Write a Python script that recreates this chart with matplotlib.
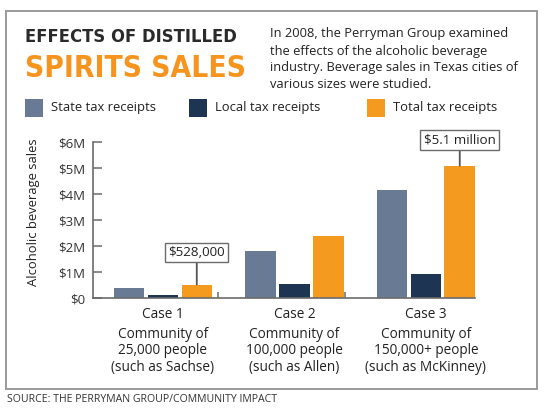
import matplotlib
matplotlib.use("Agg")
import matplotlib.pyplot as plt
from matplotlib.patches import Rectangle
import numpy as np

# ---- data ----
cases = ["Case 1", "Case 2", "Case 3"]
case_desc = ["Community of\n25,000 people\n(such as Sachse)",
             "Community of\n100,000 people\n(such as Allen)",
             "Community of\n150,000+ people\n(such as McKinney)"]
state_tax = [0.40, 1.82, 4.17]   # $ millions
local_tax = [0.12, 0.56, 0.95]
total_tax = [0.528, 2.40, 5.10]
series_names = ["State tax receipts", "Local tax receipts", "Total tax receipts"]
yticks = [0, 1, 2, 3, 4, 5, 6]
ytick_labels = ["$0", "$1M", "$2M", "$3M", "$4M", "$5M", "$6M"]
callouts = {0: "$528,000", 2: "$5.1 million"}

colors = ["#687a94", "#1d3553", "#f39a1f"]
W, H = 546, 416
plt.rcParams['font.family'] = ['Open Sans', 'DejaVu Sans']

fig = plt.figure(figsize=(W / 100, H / 100), dpi=100)
renderer = fig.canvas.get_renderer()

def fx(px):
    return px / W

def fy(py):
    return 1 - py / H

def fit_width(t, target_px):
    w = t.get_window_extent(renderer=renderer).width
    t.set_fontsize(t.get_fontsize() * target_px / w)

# frame
fig.patches.append(Rectangle((fx(6), fy(389)), fx(537) - fx(6), fy(11) - fy(389),
                             transform=fig.transFigure, fill=False,
                             edgecolor="#9a9a9a", lw=1.4))

# titles
t1 = fig.text(fx(25), fy(37), "EFFECTS OF DISTILLED", family=['DejaVu Sans'],
              weight='heavy', stretch='condensed', fontsize=13.5, color="#2a2a2a",
              va='center', ha='left')
fit_width(t1, 211)
t2 = fig.text(fx(25), fy(68.5), "SPIRITS SALES", family=['DejaVu Sans'],
              weight='bold', stretch='condensed', fontsize=29, color="#f7941d",
              va='center', ha='left')
fit_width(t2, 221)

desc = ["In 2008, the Perryman Group examined",
        "the effects of the alcoholic beverage",
        "industry. Beverage sales in Texas cities of",
        "various sizes were studied."]
for i, line in enumerate(desc):
    fig.text(fx(270), fy(34 + 17 * i), line, fontsize=9.3, color="#222222",
             va='center', ha='left')

# legend
leg_x = [25, 189, 367]
for name, c, x0 in zip(series_names, colors, leg_x):
    fig.patches.append(Rectangle((fx(x0), fy(117)), fx(18), 18 / H,
                                 transform=fig.transFigure, color=c, lw=0))
    fig.text(fx(x0 + 26), fy(108), name, fontsize=9.4, color="#222222",
             va='center', ha='left')

# axes
ax_l, ax_r, ax_t, ax_b = 92.5, 475, 142.3, 298.3
ax = fig.add_axes([fx(ax_l), fy(ax_b), fx(ax_r - ax_l), (ax_b - ax_t) / H])
x = np.arange(len(cases))
pitch, bw = 0.258, 0.232
for k, (vals, c) in enumerate(zip([state_tax, local_tax, total_tax], colors)):
    ax.bar(x + (k - 1) * pitch, vals, width=bw, color=c, lw=0, zorder=2)

ax.set_xlim(-0.535, 2.374)
ax.set_ylim(0, 6)
for s in ["top", "right"]:
    ax.spines[s].set_visible(False)
for s in ["left", "bottom"]:
    ax.spines[s].set_color("#6b6b6b")
    ax.spines[s].set_linewidth(1.2)
ax.set_yticks(yticks)
ax.set_yticklabels(ytick_labels)
ax.tick_params(axis='y', direction='in', length=6.5, width=1.1, color="#6b6b6b",
               labelsize=9.5, labelcolor="#333333", pad=5)
ax.set_xticks(x)
ax.set_xticklabels(cases)
ax.tick_params(axis='x', which='major', length=0, labelsize=9.8, labelcolor="#222222", pad=6)
ax.set_xticks([0.423, 1.387], minor=True)
ax.tick_params(axis='x', which='minor', direction='in', length=4, width=1.1, color="#6b6b6b")
for i, d in enumerate(case_desc):
    ax.annotate(d, xy=(i, 0), xycoords='data', xytext=(0, -20.5), textcoords='offset points',
                ha='center', va='top', fontsize=9.8, color="#222222", linespacing=1.13,
                annotation_clip=False)

ax.set_ylabel("Alcoholic beverage sales", fontsize=9.4, color="#222222")
ax.yaxis.set_label_coords(-0.137, 0.553)

# callouts
offs = {0: 23, 2: 18.7}
for i, label in callouts.items():
    xb = x[i] + pitch
    ax.annotate(label, xy=(xb, total_tax[i]), xytext=(0, offs[i]), textcoords='offset points',
                ha='center', va='center', fontsize=9.6, color="#222222",
                bbox=dict(boxstyle='square,pad=0.25', fc='white', ec='#6b6b6b', lw=1.0),
                arrowprops=dict(arrowstyle='-', color='#555555', lw=1.3, shrinkA=0, shrinkB=0),
                annotation_clip=False, zorder=5)

fig.text(fx(7), fy(400), "SOURCE: THE PERRYMAN GROUP/COMMUNITY IMPACT", fontsize=7.6,
         color="#333333", va='center', ha='left')

fig.savefig("out.png", dpi=100)
